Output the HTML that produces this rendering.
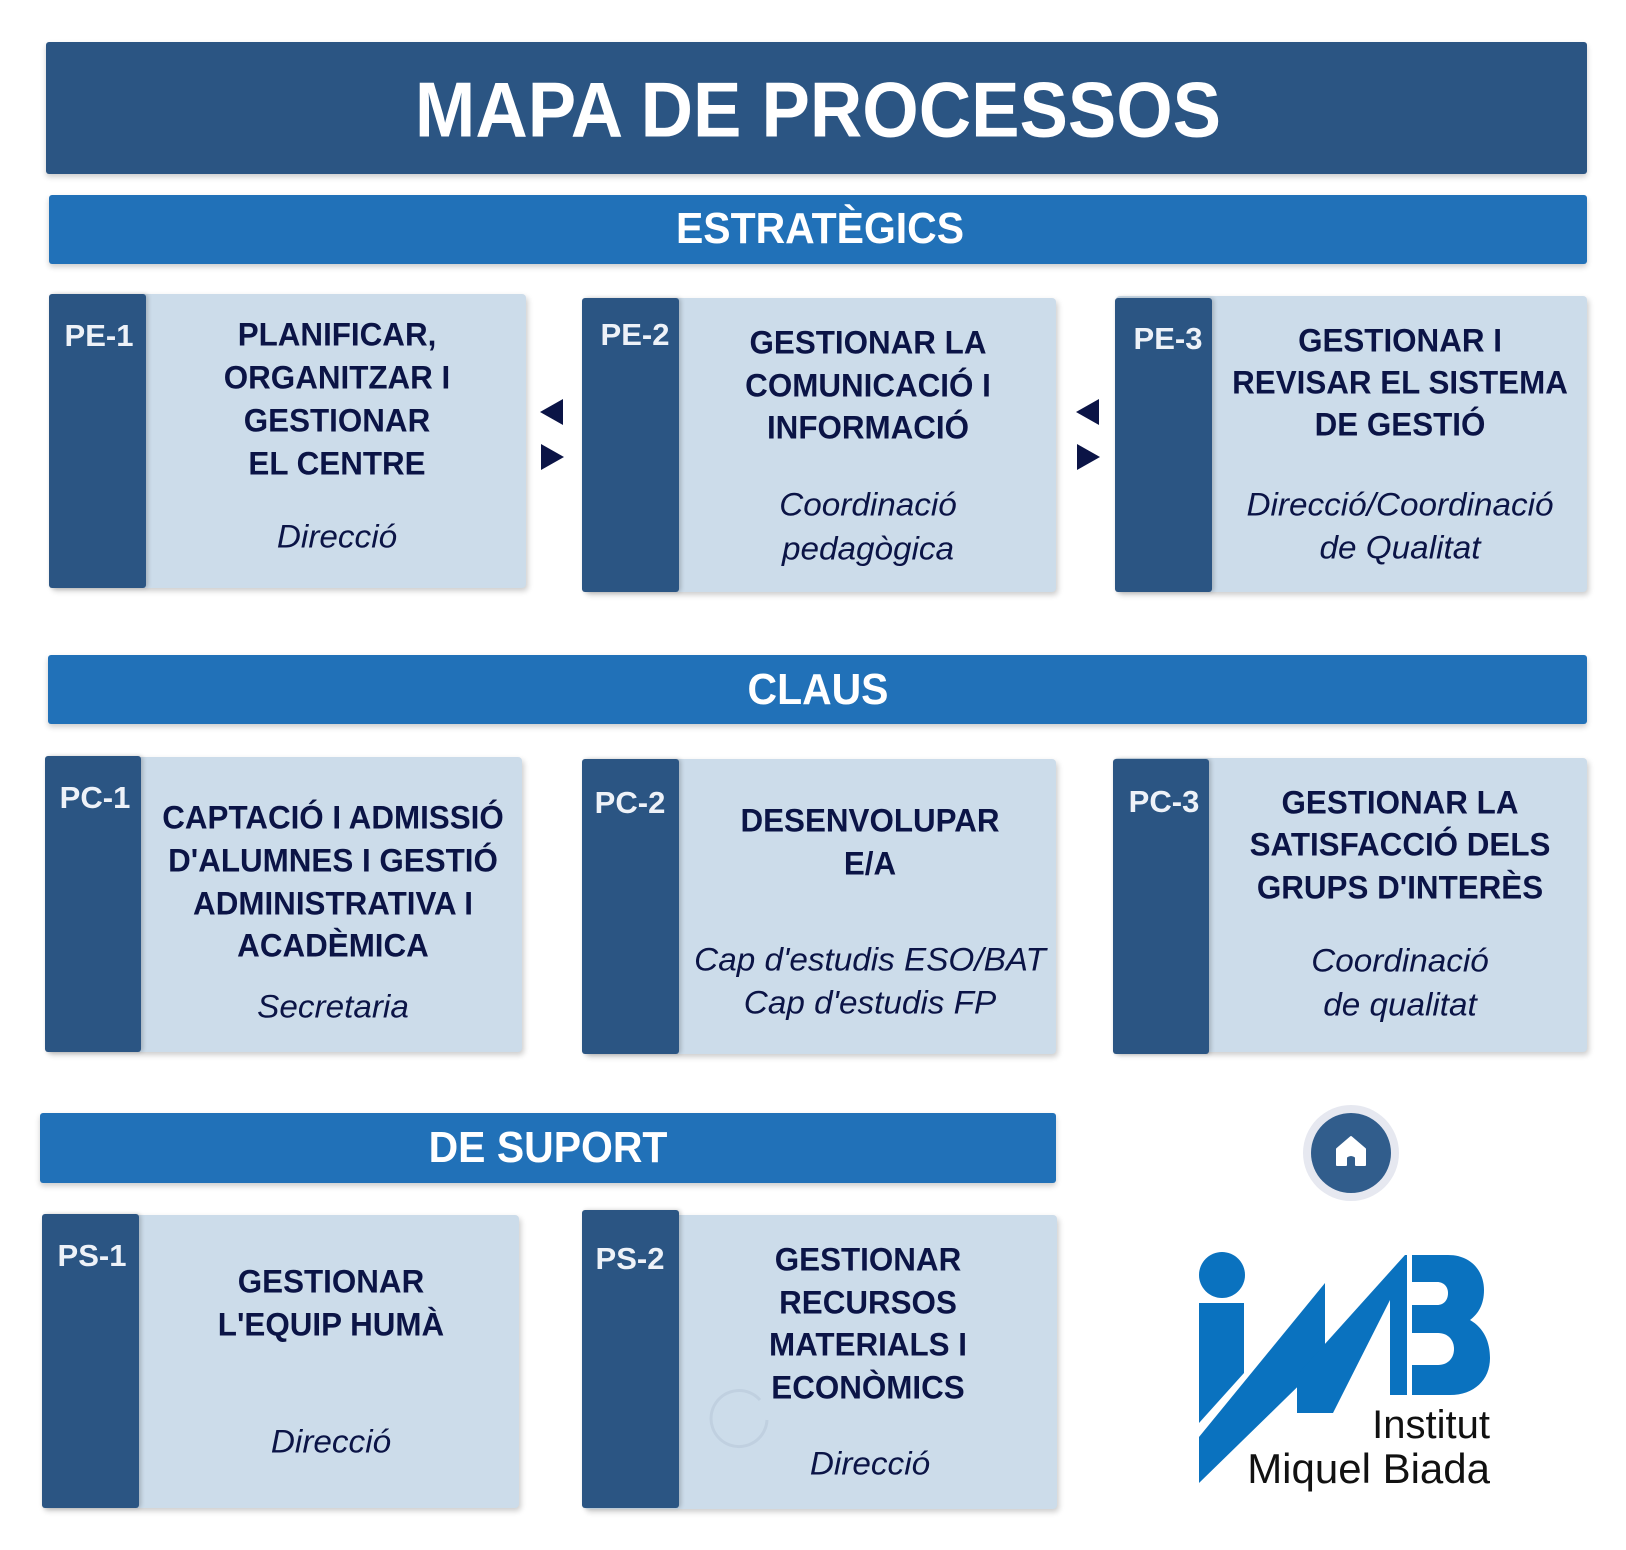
<!DOCTYPE html>
<html><head><meta charset="utf-8">
<style>
*{margin:0;padding:0;box-sizing:border-box}
body{width:1626px;height:1550px;background:#fff;position:relative;overflow:hidden;font-family:"Liberation Sans",sans-serif}
.abs{position:absolute}
.title{left:46px;top:42px;width:1541px;height:132px;background:#2b5583;border-radius:3px;box-shadow:0 3px 6px rgba(0,0,0,.2)}
.bar{background:#2171b8;border-radius:3px;box-shadow:0 3px 6px rgba(0,0,0,.2)}
.box{background:#ccdcea;border-radius:4px;box-shadow:2px 3px 6px rgba(0,0,0,.2)}
.strip{background:#2b5583;border-radius:3px;box-shadow:2px 0 4px rgba(0,0,0,.2)}
.t{position:absolute;white-space:nowrap;transform:translate(-50%,-50%) scaleX(.98);font-weight:bold;font-size:32px;color:#0b1446}
.i{position:absolute;white-space:nowrap;transform:translate(-50%,-50%) scaleX(1.04);font-style:italic;font-size:32px;color:#0b1446}
.l{position:absolute;white-space:nowrap;transform:translate(-50%,-50%) scaleX(1.0);font-weight:bold;font-size:31px;color:#eef2f8}
.h{position:absolute;white-space:nowrap;transform:translate(-50%,-50%) scaleX(.93);font-weight:bold;color:#fff}
.arr{position:absolute;width:0;height:0;border-top:13px solid transparent;border-bottom:13px solid transparent}
.al{border-right:23px solid #0b1446}
.ar{border-left:23px solid #0b1446}
</style></head><body>
<div class="abs title"></div>
<div class="h" style="left:818px;top:110px;font-size:78px">MAPA DE PROCESSOS</div>

<div class="abs bar" style="left:49px;top:195px;width:1538px;height:69px"></div>
<div class="h" style="left:820px;top:229px;font-size:44px">ESTRATÈGICS</div>

<div class="abs bar" style="left:48px;top:655px;width:1539px;height:69px"></div>
<div class="h" style="left:818px;top:690px;font-size:44px">CLAUS</div>

<div class="abs bar" style="left:40px;top:1113px;width:1016px;height:70px"></div>
<div class="h" style="left:548px;top:1148px;font-size:44px">DE SUPORT</div>

<!-- PE-1 -->
<div class="abs box" style="left:50px;top:294px;width:476px;height:294px"></div>
<div class="abs strip" style="left:49px;top:294px;width:97px;height:294px"></div>
<div class="l" style="left:99px;top:336px">PE-1</div>
<div class="t" style="left:337px;top:335px">PLANIFICAR,</div>
<div class="t" style="left:337px;top:378px">ORGANITZAR I</div>
<div class="t" style="left:337px;top:421px">GESTIONAR</div>
<div class="t" style="left:337px;top:464px">EL CENTRE</div>
<div class="i" style="left:337px;top:537px">Direcció</div>

<!-- PE-2 -->
<div class="abs box" style="left:584px;top:298px;width:472px;height:294px"></div>
<div class="abs strip" style="left:582px;top:298px;width:97px;height:294px"></div>
<div class="l" style="left:635px;top:335px">PE-2</div>
<div class="t" style="left:868px;top:343px">GESTIONAR LA</div>
<div class="t" style="left:868px;top:386px">COMUNICACIÓ I</div>
<div class="t" style="left:868px;top:428px">INFORMACIÓ</div>
<div class="i" style="left:868px;top:505px">Coordinació</div>
<div class="i" style="left:868px;top:549px">pedagògica</div>

<!-- PE-3 -->
<div class="abs box" style="left:1116px;top:296px;width:471px;height:296px"></div>
<div class="abs strip" style="left:1115px;top:298px;width:97px;height:294px"></div>
<div class="l" style="left:1168px;top:339px">PE-3</div>
<div class="t" style="left:1400px;top:341px">GESTIONAR I</div>
<div class="t" style="left:1400px;top:383px">REVISAR EL SISTEMA</div>
<div class="t" style="left:1400px;top:425px">DE GESTIÓ</div>
<div class="i" style="left:1400px;top:505px">Direcció/Coordinació</div>
<div class="i" style="left:1400px;top:548px">de Qualitat</div>

<div class="arr al" style="left:540px;top:399px"></div>
<div class="arr ar" style="left:541px;top:444px"></div>
<div class="arr al" style="left:1076px;top:399px"></div>
<div class="arr ar" style="left:1077px;top:444px"></div>

<!-- PC-1 -->
<div class="abs box" style="left:46px;top:757px;width:476px;height:295px"></div>
<div class="abs strip" style="left:45px;top:756px;width:96px;height:296px"></div>
<div class="l" style="left:95px;top:798px">PC-1</div>
<div class="t" style="left:333px;top:818px">CAPTACIÓ I ADMISSIÓ</div>
<div class="t" style="left:333px;top:861px">D'ALUMNES I GESTIÓ</div>
<div class="t" style="left:333px;top:904px">ADMINISTRATIVA I</div>
<div class="t" style="left:333px;top:946px">ACADÈMICA</div>
<div class="i" style="left:333px;top:1007px">Secretaria</div>

<!-- PC-2 -->
<div class="abs box" style="left:584px;top:759px;width:472px;height:295px"></div>
<div class="abs strip" style="left:582px;top:759px;width:97px;height:295px"></div>
<div class="l" style="left:630px;top:803px">PC-2</div>
<div class="t" style="left:870px;top:821px">DESENVOLUPAR</div>
<div class="t" style="left:870px;top:864px">E/A</div>
<div class="i" style="left:870px;top:960px">Cap d'estudis ESO/BAT</div>
<div class="i" style="left:870px;top:1003px">Cap d'estudis FP</div>

<!-- PC-3 -->
<div class="abs box" style="left:1114px;top:758px;width:473px;height:294px"></div>
<div class="abs strip" style="left:1113px;top:759px;width:96px;height:295px"></div>
<div class="l" style="left:1164px;top:802px">PC-3</div>
<div class="t" style="left:1400px;top:803px">GESTIONAR LA</div>
<div class="t" style="left:1400px;top:845px">SATISFACCIÓ DELS</div>
<div class="t" style="left:1400px;top:888px">GRUPS D'INTERÈS</div>
<div class="i" style="left:1400px;top:961px">Coordinació</div>
<div class="i" style="left:1400px;top:1005px">de qualitat</div>

<!-- PS-1 -->
<div class="abs box" style="left:42px;top:1215px;width:477px;height:293px"></div>
<div class="abs strip" style="left:42px;top:1214px;width:97px;height:294px"></div>
<div class="l" style="left:92px;top:1256px">PS-1</div>
<div class="t" style="left:331px;top:1282px">GESTIONAR</div>
<div class="t" style="left:331px;top:1325px">L'EQUIP HUMÀ</div>
<div class="i" style="left:331px;top:1442px">Direcció</div>

<!-- PS-2 -->
<div class="abs box" style="left:584px;top:1215px;width:473px;height:294px"></div>
<div class="abs strip" style="left:582px;top:1210px;width:97px;height:298px"></div>
<div class="l" style="left:630px;top:1259px">PS-2</div>
<svg class="abs" style="left:705px;top:1380px" width="70" height="70" viewBox="0 0 70 70"><path d="M55 20 A28 28 0 1 0 62 40" fill="none" stroke="#c0d0e0" stroke-width="3"/></svg>
<div class="t" style="left:868px;top:1260px">GESTIONAR</div>
<div class="t" style="left:868px;top:1303px">RECURSOS</div>
<div class="t" style="left:868px;top:1345px">MATERIALS I</div>
<div class="t" style="left:868px;top:1388px">ECONÒMICS</div>
<div class="i" style="left:870px;top:1464px">Direcció</div>

<!-- home -->
<div class="abs" style="left:1303px;top:1105px;width:96px;height:96px;border-radius:50%;background:#e6e8f0"></div>
<div class="abs" style="left:1311px;top:1113px;width:80px;height:80px;border-radius:50%;background:#315d8c"></div>
<svg class="abs" style="left:1333px;top:1133px" width="36" height="36" viewBox="0 0 36 36"><path d="M4 16 L18 4 L32 16 L32 32 L23 32 L23 24 Q18 20 13 24 L13 32 L4 32 Z" fill="#fff" stroke="#fff" stroke-width="2" stroke-linejoin="round"/></svg>

<!-- logo -->
<svg class="abs" style="left:1190px;top:1250px" width="320" height="260" viewBox="1190 1250 320 260">
<g fill="#0a72bf">
<circle cx="1222" cy="1275" r="23"/>
<polygon points="1199,1303 1244,1303 1244,1373 1199,1423"/>
<polygon points="1199,1437 1325,1283 1325,1360 1199,1483"/>
<polygon points="1297,1413 1297,1372 1325,1340 1325,1400"/>
<polygon points="1297,1413 1297,1375 1405,1255 1407,1255 1407,1395 1390,1395 1390,1300 1333,1413"/>
<path d="M1412 1255 H1448 C1472 1255 1484 1272 1484 1290 C1484 1305 1478 1314 1470 1320 C1484 1328 1490 1342 1490 1358 C1490 1380 1474 1395 1450 1395 H1412 Z"/>
</g>
<g fill="#fff">
<path d="M1412 1282 H1437 C1444 1282 1448 1287 1448 1293 C1448 1300 1444 1305 1437 1305 H1412 Z"/>
<path d="M1412 1333 H1438 C1448 1333 1454 1340 1454 1349 C1454 1358 1448 1365 1438 1365 H1412 Z"/>
</g>
<text x="1490" y="1438" text-anchor="end" font-family="Liberation Sans" font-size="40" fill="#111">Institut</text>
<text x="1490" y="1483" text-anchor="end" font-family="Liberation Sans" font-size="42" fill="#111">Miquel Biada</text>
</svg>
</body></html>
